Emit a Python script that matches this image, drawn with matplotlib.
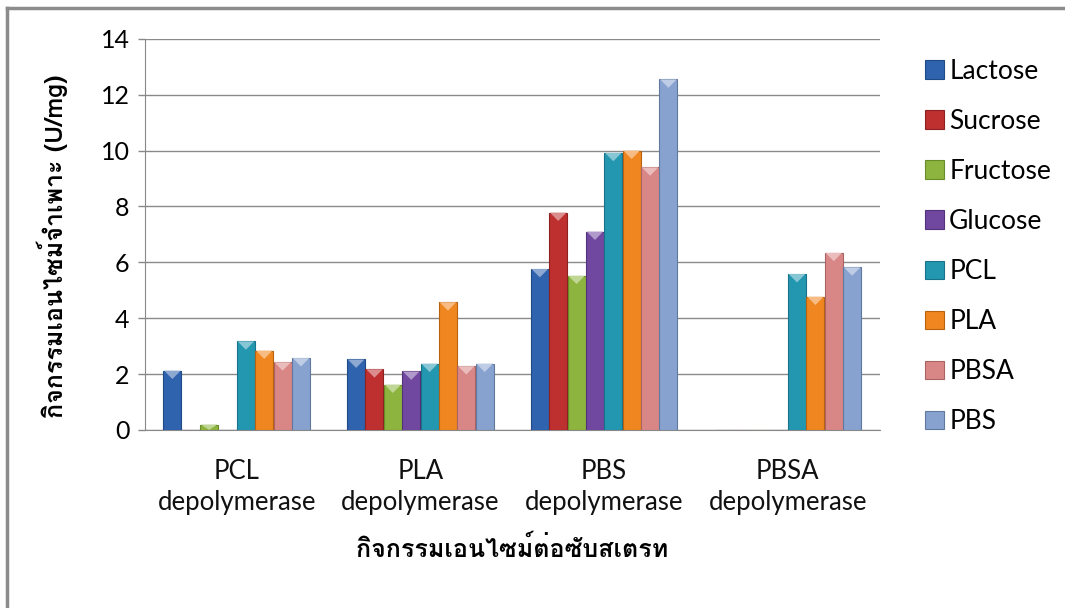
import numpy as np
import matplotlib.pyplot as plt
from matplotlib import font_manager
from matplotlib.lines import Line2D
from matplotlib.patches import Polygon
from matplotlib.colors import to_rgb
from fontTools.ttLib import TTFont

# Data
groups = ["PCL\ndepolymerase", "PLA\ndepolymerase", "PBS\ndepolymerase", "PBSA\ndepolymerase"]
series = ["Lactose", "Sucrose", "Fructose", "Glucose", "PCL", "PLA", "PBSA", "PBS"]
lactose = [2.12, 2.52, 5.76, 0]
sucrose = [0, 2.17, 7.78, 0]
fructose = [0.19, 1.62, 5.52, 0]
glucose = [0, 2.09, 7.10, 0]
pcl = [3.17, 2.37, 9.92, 5.58]
pla = [2.84, 4.57, 10.0, 4.77]
pbsa = [2.42, 2.28, 9.40, 6.34]
pbs = [2.57, 2.37, 12.55, 5.82]
values = [lactose, sucrose, fructose, glucose, pcl, pla, pbsa, pbs]

colors = ['#2F63AE', '#BE2F2F', '#8DB43E', '#7148A0', '#2497B0', '#F0861F', '#D98686', '#88A2D0']
edges = ['#1F4A85', '#8E2020', '#6A8B2A', '#523278', '#17728A', '#B8620F', '#A96363', '#62799F']

y_label = "กิจกรรมเอนไซม์จำเพาะ (U/mg)"
x_label = "กิจกรรมเอนไซม์ต่อซับสเตรท"


# Pick an installed font that has Thai glyphs
def find_thai_font():
    for f in font_manager.fontManager.ttflist:
        try:
            tt = TTFont(f.fname, fontNumber=0, lazy=True)
            cmap = tt.getBestCmap()
            if cmap and 0x0E01 in cmap and 0x0E21 in cmap:
                return f.name
        except Exception:
            continue
    return None


def lighten(c, amt=0.45):
    r, g, b = to_rgb(c)
    return (r + (1 - r) * amt, g + (1 - g) * amt, b + (1 - b) * amt)


thai = find_thai_font()
fams = ['Lato', 'DejaVu Sans']
if thai:
    fams = [thai] + fams
plt.rcParams['font.family'] = ['Lato', 'DejaVu Sans']

fig = plt.figure(figsize=(10.65, 6.08), dpi=100)
ax = fig.add_axes([0.136, 0.293, 0.690, 0.643])

n = len(series)
x = np.arange(len(groups))
width = 0.8 / n
for i, (name, vals) in enumerate(zip(series, values)):
    pos = x - 0.4 + width * (i + 0.5)
    bw = width * 0.98
    ax.bar(pos, vals, bw, color=colors[i], edgecolor=edges[i],
           linewidth=0.8, label=name, zorder=3)
    # bevelled top of each bar
    for p, v in zip(pos, vals):
        if v <= 0:
            continue
        d = min(0.3, v)
        tri = Polygon([[p - bw / 2 + 0.004, v], [p + bw / 2 - 0.004, v], [p, v - d]],
                      closed=True, facecolor=lighten(colors[i]), edgecolor='none', zorder=4)
        ax.add_patch(tri)

ax.set_xlim(-0.5, len(groups) - 0.5)
ax.set_ylim(0, 14)
ax.set_yticks(np.arange(0, 15, 2))
ax.set_xticks(x)
ax.set_xticklabels(groups, fontsize=18.5, color='#111111', linespacing=1.3)
ax.tick_params(axis='y', labelsize=18, length=5, color='#888888', width=1, pad=6)
ax.tick_params(axis='x', length=0, pad=21)
ax.grid(axis='y', color='#8a8a8a', linewidth=1, zorder=0)
for s in ['top', 'right']:
    ax.spines[s].set_visible(False)
ax.spines['left'].set_color('#888888')
ax.spines['bottom'].set_color('#888888')

ax.set_ylabel(y_label, fontsize=18, family=fams, fontweight='bold', labelpad=12)
ax.yaxis.set_label_coords(-0.105, 0.47)
ax.set_xlabel(x_label, fontsize=18, family=fams, fontweight='bold', labelpad=15)

leg = ax.legend(loc='upper left', bbox_to_anchor=(1.03, 1.01), frameon=False,
                fontsize=19, labelspacing=0.95, handlelength=0.7, handleheight=0.7,
                handletextpad=0.2)

# outer chart border (left and top edges visible)
fig.add_artist(Line2D([7 / 1065, 7 / 1065], [0, 1 - 8 / 608], color='#8c8c8c', lw=2.5))
fig.add_artist(Line2D([7 / 1065, 1], [1 - 8 / 608, 1 - 8 / 608], color='#8c8c8c', lw=2.5))

fig.savefig("out.png", dpi=100)
